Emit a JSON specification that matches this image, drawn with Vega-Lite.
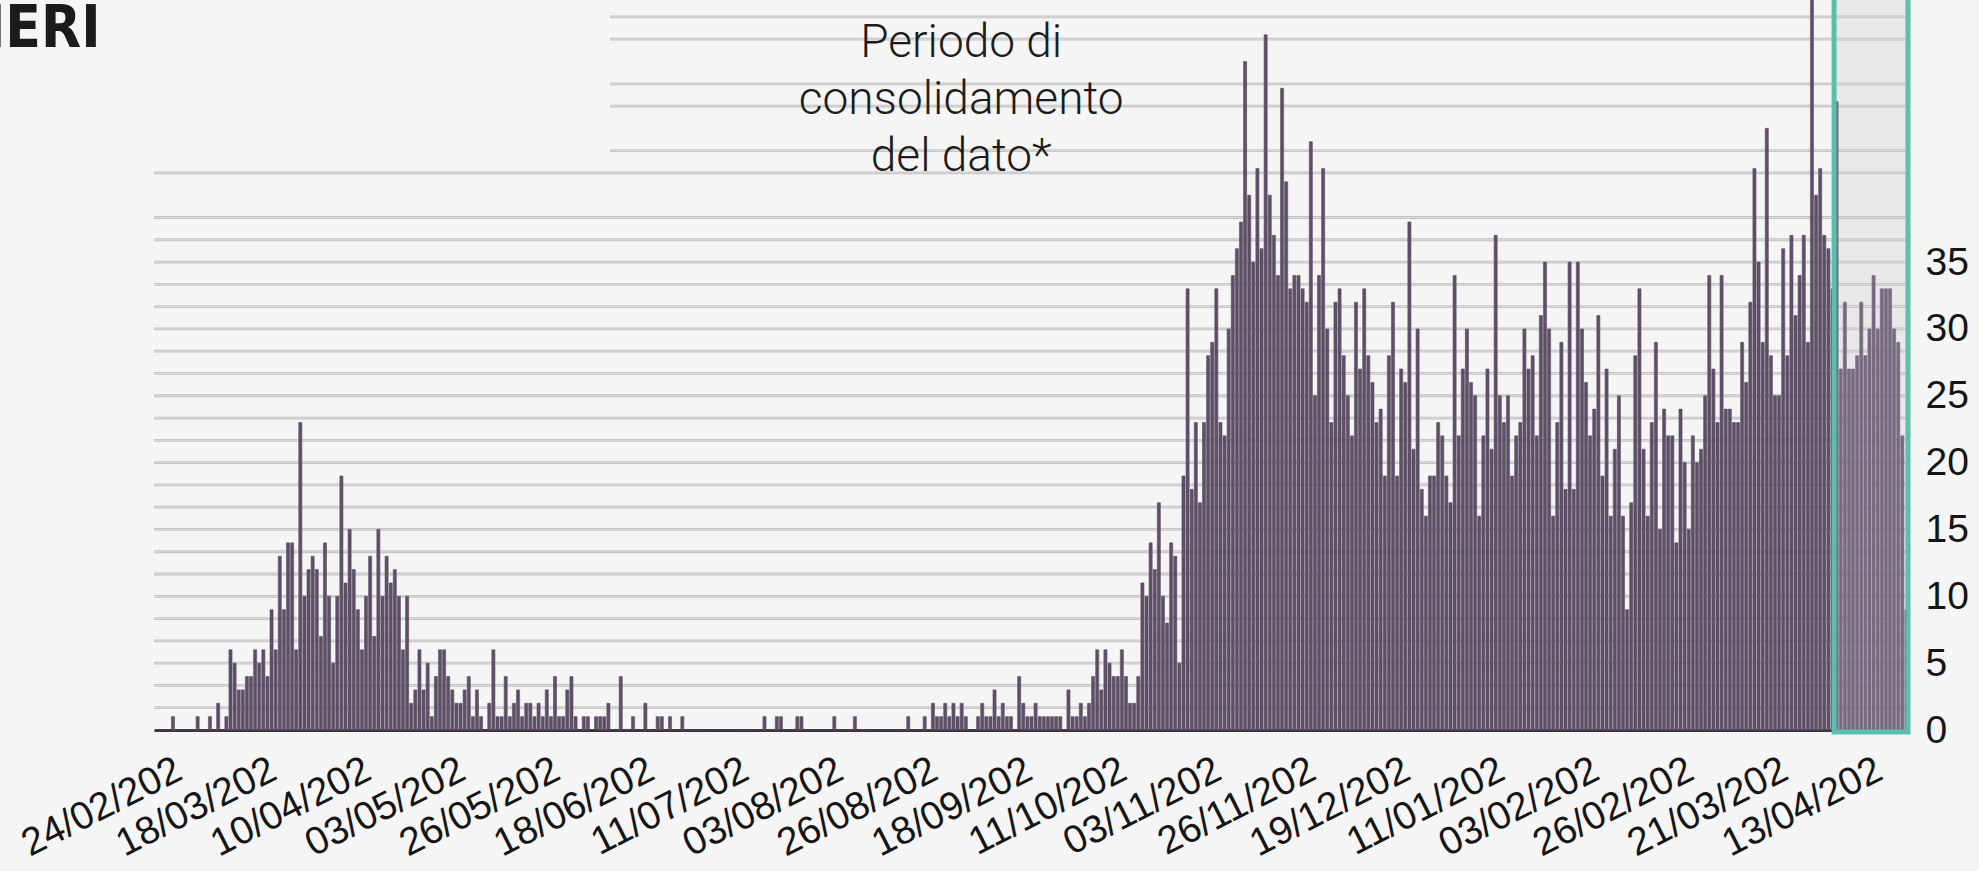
{
  "$schema": "https://vega.github.io/schema/vega-lite/v6.json",
  "width": 1754,
  "height": 730,
  "autosize": {"type": "none"},
  "padding": {"left": 154, "top": 0, "right": 71, "bottom": 141},
  "background": "#f5f5f5",
  "config": {"view": {"stroke": null}, "font": "Liberation Sans"},
  "datasets": {
    "period": [{"start": "2021-04-08", "end": "2021-04-26"}],
    "grid": [
      {"v": 1.667, "from": "2020-02-24"}, {"v": 3.333, "from": "2020-02-24"}, {"v": 5, "from": "2020-02-24"},
      {"v": 6.667, "from": "2020-02-24"}, {"v": 8.333, "from": "2020-02-24"}, {"v": 10, "from": "2020-02-24"},
      {"v": 11.667, "from": "2020-02-24"}, {"v": 13.333, "from": "2020-02-24"}, {"v": 15, "from": "2020-02-24"},
      {"v": 16.667, "from": "2020-02-24"}, {"v": 18.333, "from": "2020-02-24"}, {"v": 20, "from": "2020-02-24"},
      {"v": 21.667, "from": "2020-02-24"}, {"v": 23.333, "from": "2020-02-24"}, {"v": 25, "from": "2020-02-24"},
      {"v": 26.667, "from": "2020-02-24"}, {"v": 28.333, "from": "2020-02-24"}, {"v": 30, "from": "2020-02-24"},
      {"v": 31.667, "from": "2020-02-24"}, {"v": 33.333, "from": "2020-02-24"}, {"v": 35, "from": "2020-02-24"},
      {"v": 36.667, "from": "2020-02-24"}, {"v": 38.333, "from": "2020-02-24"}, {"v": 41.667, "from": "2020-02-24"},
      {"v": 43.333, "from": "2020-06-14"}, {"v": 46.667, "from": "2020-06-14"}, {"v": 48.333, "from": "2020-06-14"},
      {"v": 51.667, "from": "2020-06-14"}, {"v": 53.333, "from": "2020-06-14"}
    ],
    "cases": [
      {"d":"2020-02-24","v":0},{"d":"2020-02-25","v":0},{"d":"2020-02-26","v":0},{"d":"2020-02-27","v":0},{"d":"2020-02-28","v":1},{"d":"2020-02-29","v":0},
      {"d":"2020-03-01","v":0},{"d":"2020-03-02","v":0},{"d":"2020-03-03","v":0},{"d":"2020-03-04","v":0},{"d":"2020-03-05","v":1},{"d":"2020-03-06","v":0},{"d":"2020-03-07","v":0},{"d":"2020-03-08","v":1},{"d":"2020-03-09","v":0},{"d":"2020-03-10","v":2},{"d":"2020-03-11","v":0},{"d":"2020-03-12","v":1},{"d":"2020-03-13","v":6},{"d":"2020-03-14","v":5},{"d":"2020-03-15","v":3},{"d":"2020-03-16","v":3},{"d":"2020-03-17","v":4},{"d":"2020-03-18","v":4},{"d":"2020-03-19","v":6},{"d":"2020-03-20","v":5},{"d":"2020-03-21","v":6},{"d":"2020-03-22","v":4},{"d":"2020-03-23","v":9},{"d":"2020-03-24","v":6},{"d":"2020-03-25","v":13},{"d":"2020-03-26","v":9},{"d":"2020-03-27","v":14},{"d":"2020-03-28","v":14},{"d":"2020-03-29","v":6},{"d":"2020-03-30","v":23},{"d":"2020-03-31","v":10},
      {"d":"2020-04-01","v":12},{"d":"2020-04-02","v":13},{"d":"2020-04-03","v":12},{"d":"2020-04-04","v":7},{"d":"2020-04-05","v":14},{"d":"2020-04-06","v":10},{"d":"2020-04-07","v":5},{"d":"2020-04-08","v":10},{"d":"2020-04-09","v":19},{"d":"2020-04-10","v":11},{"d":"2020-04-11","v":15},{"d":"2020-04-12","v":12},{"d":"2020-04-13","v":9},{"d":"2020-04-14","v":6},{"d":"2020-04-15","v":10},{"d":"2020-04-16","v":13},{"d":"2020-04-17","v":7},{"d":"2020-04-18","v":15},{"d":"2020-04-19","v":10},{"d":"2020-04-20","v":13},{"d":"2020-04-21","v":11},{"d":"2020-04-22","v":12},{"d":"2020-04-23","v":10},{"d":"2020-04-24","v":6},{"d":"2020-04-25","v":10},{"d":"2020-04-26","v":2},{"d":"2020-04-27","v":3},{"d":"2020-04-28","v":6},{"d":"2020-04-29","v":3},{"d":"2020-04-30","v":5},
      {"d":"2020-05-01","v":1},{"d":"2020-05-02","v":4},{"d":"2020-05-03","v":6},{"d":"2020-05-04","v":6},{"d":"2020-05-05","v":4},{"d":"2020-05-06","v":3},{"d":"2020-05-07","v":2},{"d":"2020-05-08","v":2},{"d":"2020-05-09","v":3},{"d":"2020-05-10","v":4},{"d":"2020-05-11","v":1},{"d":"2020-05-12","v":3},{"d":"2020-05-13","v":1},{"d":"2020-05-14","v":0},{"d":"2020-05-15","v":2},{"d":"2020-05-16","v":6},{"d":"2020-05-17","v":1},{"d":"2020-05-18","v":1},{"d":"2020-05-19","v":4},{"d":"2020-05-20","v":1},{"d":"2020-05-21","v":2},{"d":"2020-05-22","v":3},{"d":"2020-05-23","v":1},{"d":"2020-05-24","v":2},{"d":"2020-05-25","v":2},{"d":"2020-05-26","v":1},{"d":"2020-05-27","v":2},{"d":"2020-05-28","v":1},{"d":"2020-05-29","v":3},{"d":"2020-05-30","v":1},{"d":"2020-05-31","v":4},
      {"d":"2020-06-01","v":1},{"d":"2020-06-02","v":1},{"d":"2020-06-03","v":3},{"d":"2020-06-04","v":4},{"d":"2020-06-05","v":1},{"d":"2020-06-06","v":0},{"d":"2020-06-07","v":1},{"d":"2020-06-08","v":1},{"d":"2020-06-09","v":0},{"d":"2020-06-10","v":1},{"d":"2020-06-11","v":1},{"d":"2020-06-12","v":1},{"d":"2020-06-13","v":2},{"d":"2020-06-14","v":0},{"d":"2020-06-15","v":0},{"d":"2020-06-16","v":4},{"d":"2020-06-17","v":0},{"d":"2020-06-18","v":0},{"d":"2020-06-19","v":1},{"d":"2020-06-20","v":0},{"d":"2020-06-21","v":0},{"d":"2020-06-22","v":2},{"d":"2020-06-23","v":0},{"d":"2020-06-24","v":0},{"d":"2020-06-25","v":1},{"d":"2020-06-26","v":1},{"d":"2020-06-27","v":0},{"d":"2020-06-28","v":1},{"d":"2020-06-29","v":0},{"d":"2020-06-30","v":0},
      {"d":"2020-07-01","v":1},{"d":"2020-07-02","v":0},{"d":"2020-07-03","v":0},{"d":"2020-07-04","v":0},{"d":"2020-07-05","v":0},{"d":"2020-07-06","v":0},{"d":"2020-07-07","v":0},{"d":"2020-07-08","v":0},{"d":"2020-07-09","v":0},{"d":"2020-07-10","v":0},{"d":"2020-07-11","v":0},{"d":"2020-07-12","v":0},{"d":"2020-07-13","v":0},{"d":"2020-07-14","v":0},{"d":"2020-07-15","v":0},{"d":"2020-07-16","v":0},{"d":"2020-07-17","v":0},{"d":"2020-07-18","v":0},{"d":"2020-07-19","v":0},{"d":"2020-07-20","v":0},{"d":"2020-07-21","v":1},{"d":"2020-07-22","v":0},{"d":"2020-07-23","v":0},{"d":"2020-07-24","v":1},{"d":"2020-07-25","v":1},{"d":"2020-07-26","v":0},{"d":"2020-07-27","v":0},{"d":"2020-07-28","v":0},{"d":"2020-07-29","v":1},{"d":"2020-07-30","v":1},{"d":"2020-07-31","v":0},
      {"d":"2020-08-01","v":0},{"d":"2020-08-02","v":0},{"d":"2020-08-03","v":0},{"d":"2020-08-04","v":0},{"d":"2020-08-05","v":0},{"d":"2020-08-06","v":0},{"d":"2020-08-07","v":1},{"d":"2020-08-08","v":0},{"d":"2020-08-09","v":0},{"d":"2020-08-10","v":0},{"d":"2020-08-11","v":0},{"d":"2020-08-12","v":1},{"d":"2020-08-13","v":0},{"d":"2020-08-14","v":0},{"d":"2020-08-15","v":0},{"d":"2020-08-16","v":0},{"d":"2020-08-17","v":0},{"d":"2020-08-18","v":0},{"d":"2020-08-19","v":0},{"d":"2020-08-20","v":0},{"d":"2020-08-21","v":0},{"d":"2020-08-22","v":0},{"d":"2020-08-23","v":0},{"d":"2020-08-24","v":0},{"d":"2020-08-25","v":1},{"d":"2020-08-26","v":0},{"d":"2020-08-27","v":0},{"d":"2020-08-28","v":0},{"d":"2020-08-29","v":1},{"d":"2020-08-30","v":0},{"d":"2020-08-31","v":2},
      {"d":"2020-09-01","v":1},{"d":"2020-09-02","v":1},{"d":"2020-09-03","v":2},{"d":"2020-09-04","v":1},{"d":"2020-09-05","v":2},{"d":"2020-09-06","v":1},{"d":"2020-09-07","v":2},{"d":"2020-09-08","v":1},{"d":"2020-09-09","v":0},{"d":"2020-09-10","v":0},{"d":"2020-09-11","v":1},{"d":"2020-09-12","v":2},{"d":"2020-09-13","v":1},{"d":"2020-09-14","v":1},{"d":"2020-09-15","v":3},{"d":"2020-09-16","v":1},{"d":"2020-09-17","v":2},{"d":"2020-09-18","v":1},{"d":"2020-09-19","v":1},{"d":"2020-09-20","v":0},{"d":"2020-09-21","v":4},{"d":"2020-09-22","v":2},{"d":"2020-09-23","v":1},{"d":"2020-09-24","v":1},{"d":"2020-09-25","v":2},{"d":"2020-09-26","v":1},{"d":"2020-09-27","v":1},{"d":"2020-09-28","v":1},{"d":"2020-09-29","v":1},{"d":"2020-09-30","v":1},
      {"d":"2020-10-01","v":1},{"d":"2020-10-02","v":0},{"d":"2020-10-03","v":3},{"d":"2020-10-04","v":1},{"d":"2020-10-05","v":1},{"d":"2020-10-06","v":2},{"d":"2020-10-07","v":1},{"d":"2020-10-08","v":2},{"d":"2020-10-09","v":4},{"d":"2020-10-10","v":6},{"d":"2020-10-11","v":3},{"d":"2020-10-12","v":6},{"d":"2020-10-13","v":5},{"d":"2020-10-14","v":4},{"d":"2020-10-15","v":4},{"d":"2020-10-16","v":6},{"d":"2020-10-17","v":4},{"d":"2020-10-18","v":2},{"d":"2020-10-19","v":2},{"d":"2020-10-20","v":4},{"d":"2020-10-21","v":11},{"d":"2020-10-22","v":10},{"d":"2020-10-23","v":14},{"d":"2020-10-24","v":12},{"d":"2020-10-25","v":17},{"d":"2020-10-26","v":10},{"d":"2020-10-27","v":8},{"d":"2020-10-28","v":14},{"d":"2020-10-29","v":13},{"d":"2020-10-30","v":5},{"d":"2020-10-31","v":19},
      {"d":"2020-11-01","v":33},{"d":"2020-11-02","v":18},{"d":"2020-11-03","v":23},{"d":"2020-11-04","v":17},{"d":"2020-11-05","v":23},{"d":"2020-11-06","v":28},{"d":"2020-11-07","v":29},{"d":"2020-11-08","v":33},{"d":"2020-11-09","v":23},{"d":"2020-11-10","v":22},{"d":"2020-11-11","v":30},{"d":"2020-11-12","v":34},{"d":"2020-11-13","v":36},{"d":"2020-11-14","v":38},{"d":"2020-11-15","v":50},{"d":"2020-11-16","v":40},{"d":"2020-11-17","v":35},{"d":"2020-11-18","v":42},{"d":"2020-11-19","v":36},{"d":"2020-11-20","v":52},{"d":"2020-11-21","v":40},{"d":"2020-11-22","v":37},{"d":"2020-11-23","v":34},{"d":"2020-11-24","v":48},{"d":"2020-11-25","v":41},{"d":"2020-11-26","v":33},{"d":"2020-11-27","v":34},{"d":"2020-11-28","v":34},{"d":"2020-11-29","v":33},{"d":"2020-11-30","v":32},
      {"d":"2020-12-01","v":44},{"d":"2020-12-02","v":25},{"d":"2020-12-03","v":34},{"d":"2020-12-04","v":42},{"d":"2020-12-05","v":30},{"d":"2020-12-06","v":23},{"d":"2020-12-07","v":32},{"d":"2020-12-08","v":33},{"d":"2020-12-09","v":28},{"d":"2020-12-10","v":25},{"d":"2020-12-11","v":22},{"d":"2020-12-12","v":32},{"d":"2020-12-13","v":27},{"d":"2020-12-14","v":33},{"d":"2020-12-15","v":28},{"d":"2020-12-16","v":26},{"d":"2020-12-17","v":23},{"d":"2020-12-18","v":24},{"d":"2020-12-19","v":19},{"d":"2020-12-20","v":28},{"d":"2020-12-21","v":32},{"d":"2020-12-22","v":19},{"d":"2020-12-23","v":27},{"d":"2020-12-24","v":26},{"d":"2020-12-25","v":38},{"d":"2020-12-26","v":21},{"d":"2020-12-27","v":30},{"d":"2020-12-28","v":18},{"d":"2020-12-29","v":16},{"d":"2020-12-30","v":19},{"d":"2020-12-31","v":19},
      {"d":"2021-01-01","v":23},{"d":"2021-01-02","v":22},{"d":"2021-01-03","v":19},{"d":"2021-01-04","v":17},{"d":"2021-01-05","v":34},{"d":"2021-01-06","v":22},{"d":"2021-01-07","v":27},{"d":"2021-01-08","v":30},{"d":"2021-01-09","v":26},{"d":"2021-01-10","v":25},{"d":"2021-01-11","v":16},{"d":"2021-01-12","v":22},{"d":"2021-01-13","v":27},{"d":"2021-01-14","v":21},{"d":"2021-01-15","v":37},{"d":"2021-01-16","v":25},{"d":"2021-01-17","v":23},{"d":"2021-01-18","v":25},{"d":"2021-01-19","v":19},{"d":"2021-01-20","v":22},{"d":"2021-01-21","v":23},{"d":"2021-01-22","v":30},{"d":"2021-01-23","v":27},{"d":"2021-01-24","v":28},{"d":"2021-01-25","v":22},{"d":"2021-01-26","v":31},{"d":"2021-01-27","v":35},{"d":"2021-01-28","v":30},{"d":"2021-01-29","v":16},{"d":"2021-01-30","v":23},{"d":"2021-01-31","v":29},
      {"d":"2021-02-01","v":18},{"d":"2021-02-02","v":35},{"d":"2021-02-03","v":18},{"d":"2021-02-04","v":35},{"d":"2021-02-05","v":30},{"d":"2021-02-06","v":26},{"d":"2021-02-07","v":22},{"d":"2021-02-08","v":24},{"d":"2021-02-09","v":31},{"d":"2021-02-10","v":19},{"d":"2021-02-11","v":27},{"d":"2021-02-12","v":16},{"d":"2021-02-13","v":21},{"d":"2021-02-14","v":25},{"d":"2021-02-15","v":16},{"d":"2021-02-16","v":9},{"d":"2021-02-17","v":17},{"d":"2021-02-18","v":28},{"d":"2021-02-19","v":33},{"d":"2021-02-20","v":21},{"d":"2021-02-21","v":16},{"d":"2021-02-22","v":23},{"d":"2021-02-23","v":29},{"d":"2021-02-24","v":15},{"d":"2021-02-25","v":24},{"d":"2021-02-26","v":22},{"d":"2021-02-27","v":22},{"d":"2021-02-28","v":14},
      {"d":"2021-03-01","v":24},{"d":"2021-03-02","v":20},{"d":"2021-03-03","v":15},{"d":"2021-03-04","v":22},{"d":"2021-03-05","v":20},{"d":"2021-03-06","v":21},{"d":"2021-03-07","v":25},{"d":"2021-03-08","v":34},{"d":"2021-03-09","v":27},{"d":"2021-03-10","v":23},{"d":"2021-03-11","v":34},{"d":"2021-03-12","v":24},{"d":"2021-03-13","v":24},{"d":"2021-03-14","v":23},{"d":"2021-03-15","v":23},{"d":"2021-03-16","v":29},{"d":"2021-03-17","v":26},{"d":"2021-03-18","v":32},{"d":"2021-03-19","v":42},{"d":"2021-03-20","v":35},{"d":"2021-03-21","v":29},{"d":"2021-03-22","v":45},{"d":"2021-03-23","v":28},{"d":"2021-03-24","v":25},{"d":"2021-03-25","v":25},{"d":"2021-03-26","v":36},{"d":"2021-03-27","v":28},{"d":"2021-03-28","v":37},{"d":"2021-03-29","v":31},{"d":"2021-03-30","v":34},{"d":"2021-03-31","v":37},
      {"d":"2021-04-01","v":29},{"d":"2021-04-02","v":60},{"d":"2021-04-03","v":40},{"d":"2021-04-04","v":42},{"d":"2021-04-05","v":37},{"d":"2021-04-06","v":36},{"d":"2021-04-07","v":33},{"d":"2021-04-08","v":47},{"d":"2021-04-09","v":27},{"d":"2021-04-10","v":32},{"d":"2021-04-11","v":27},{"d":"2021-04-12","v":27},{"d":"2021-04-13","v":28},{"d":"2021-04-14","v":32},{"d":"2021-04-15","v":28},{"d":"2021-04-16","v":30},{"d":"2021-04-17","v":34},{"d":"2021-04-18","v":30},{"d":"2021-04-19","v":33},{"d":"2021-04-20","v":33},{"d":"2021-04-21","v":33},{"d":"2021-04-22","v":30},{"d":"2021-04-23","v":29},{"d":"2021-04-24","v":22},{"d":"2021-04-25","v":9}
    ]
  },
  "layer": [
    {
      "data": {"name": "period"},
      "mark": {"type": "rect", "fill": "#e8e8e8"},
      "encoding": {
        "x": {"field": "start", "type": "temporal", "scale": {"type": "utc"}, "title": null},
        "x2": {"field": "end"},
        "y": {"datum": 0, "type": "quantitative", "title": null},
        "y2": {"datum": 62}
      }
    },
    {
      "data": {"name": "grid"},
      "mark": {"type": "rule", "stroke": "#c3c3c3", "strokeWidth": 2.8},
      "encoding": {
        "x": {"field": "from", "type": "temporal", "scale": {"type": "utc"}, "title": null},
        "x2": {"datum": {"year": 2021, "month": 4, "date": 26, "utc": true}},
        "y": {"field": "v", "type": "quantitative", "title": null}
      }
    },
    {
      "data": {"name": "grid"},
      "mark": {"type": "rule", "stroke": "#e2e2e2", "strokeWidth": 0.8},
      "encoding": {
        "x": {"field": "from", "type": "temporal", "scale": {"type": "utc"}, "title": null},
        "x2": {"datum": {"year": 2021, "month": 4, "date": 26, "utc": true}},
        "y": {"field": "v", "type": "quantitative", "title": null}
      }
    },
    {
      "data": {"name": "cases"},
      "mark": {"type": "bar", "clip": true, "width": {"band": 1}, "strokeWidth": 0.6},
      "encoding": {
        "x": {
          "field": "d", "type": "temporal", "timeUnit": "utcyearmonthdate", "title": null,
          "scale": {
            "type": "utc", "nice": false, "padding": 0,
            "domain": [{"year": 2020, "month": 2, "date": 24, "utc": true}, {"year": 2021, "month": 4, "date": 26, "utc": true}]
          },
          "axis": {
            "values": [
              {"year": 2020, "month": 2, "date": 24, "utc": true}, {"year": 2020, "month": 3, "date": 18, "utc": true},
              {"year": 2020, "month": 4, "date": 10, "utc": true}, {"year": 2020, "month": 5, "date": 3, "utc": true},
              {"year": 2020, "month": 5, "date": 26, "utc": true}, {"year": 2020, "month": 6, "date": 18, "utc": true},
              {"year": 2020, "month": 7, "date": 11, "utc": true}, {"year": 2020, "month": 8, "date": 3, "utc": true},
              {"year": 2020, "month": 8, "date": 26, "utc": true}, {"year": 2020, "month": 9, "date": 18, "utc": true},
              {"year": 2020, "month": 10, "date": 11, "utc": true}, {"year": 2020, "month": 11, "date": 3, "utc": true},
              {"year": 2020, "month": 11, "date": 26, "utc": true}, {"year": 2020, "month": 12, "date": 19, "utc": true},
              {"year": 2021, "month": 1, "date": 11, "utc": true}, {"year": 2021, "month": 2, "date": 3, "utc": true},
              {"year": 2021, "month": 2, "date": 26, "utc": true}, {"year": 2021, "month": 3, "date": 21, "utc": true},
              {"year": 2021, "month": 4, "date": 13, "utc": true}
            ],
            "labelExpr": "slice(utcFormat(datum.value, '%d/%m/%Y'), 0, 9)",
            "labelAngle": -27,
            "labelAlign": "right",
            "labelBaseline": "top",
            "labelOffset": 16,
            "labelPadding": 20,
            "labelFont": "Liberation Sans",
            "labelFontSize": 39,
            "labelColor": "#151515",
            "labelOverlap": false,
            "labelBound": false,
            "labelFlush": false,
            "ticks": false,
            "grid": false,
            "domain": true,
            "domainColor": "#3e3544",
            "domainWidth": 3
          }
        },
        "y": {
          "field": "v", "type": "quantitative", "title": null,
          "scale": {"domain": [0, 54.6], "nice": false, "zero": true},
          "axis": {
            "orient": "right",
            "values": [0, 5, 10, 15, 20, 25, 30, 35],
            "grid": false,
            "domain": false,
            "ticks": false,
            "labelAlign": "left",
            "labelBaseline": "middle",
            "labelPadding": 17,
            "labelFont": "Liberation Sans",
            "labelFontSize": 39,
            "labelColor": "#151515"
          }
        },
        "color": {
          "condition": {"test": "time(datum.d) >= utc(2021, 3, 8)", "value": "#766a7f"},
          "value": "#5d5066"
        },
        "stroke": {
          "condition": {"test": "time(datum.d) >= utc(2021, 3, 8)", "value": "#766a7f"},
          "value": "#5d5066"
        }
      }
    },
    {
      "data": {"name": "period"},
      "mark": {"type": "rect", "fill": null, "fillOpacity": 0, "stroke": "#5bbfae", "strokeWidth": 5},
      "encoding": {
        "x": {"field": "start", "type": "temporal", "scale": {"type": "utc"}, "title": null},
        "x2": {"field": "end"},
        "y": {"datum": -0.15, "type": "quantitative", "title": null},
        "y2": {"datum": 62}
      }
    },
    {
      "data": {"values": [{}]},
      "mark": {
        "type": "text",
        "text": ["Periodo di", "consolidamento", "del dato*"],
        "font": "Roboto",
        "fontSize": 46,
        "fontWeight": 300,
        "lineHeight": 57,
        "align": "center",
        "baseline": "alphabetic",
        "color": "#1c1c1c"
      },
      "encoding": {
        "x": {"datum": {"year": 2020, "month": 9, "date": 7, "hours": 12, "utc": true}, "type": "temporal"},
        "y": {"datum": 50.3, "type": "quantitative"}
      }
    },
    {
      "data": {"values": [{}]},
      "mark": {
        "type": "text",
        "text": "IERI",
        "font": "Liberation Sans Narrow, DejaVu Sans Condensed, sans-serif",
        "fontWeight": "bold",
        "fontSize": 58,
        "align": "right",
        "baseline": "alphabetic",
        "color": "#1b1b1b"
      },
      "encoding": {
        "x": {"datum": {"year": 2020, "month": 2, "date": 11, "utc": true}, "type": "temporal"},
        "y": {"datum": 51.1, "type": "quantitative"}
      }
    }
  ]
}
